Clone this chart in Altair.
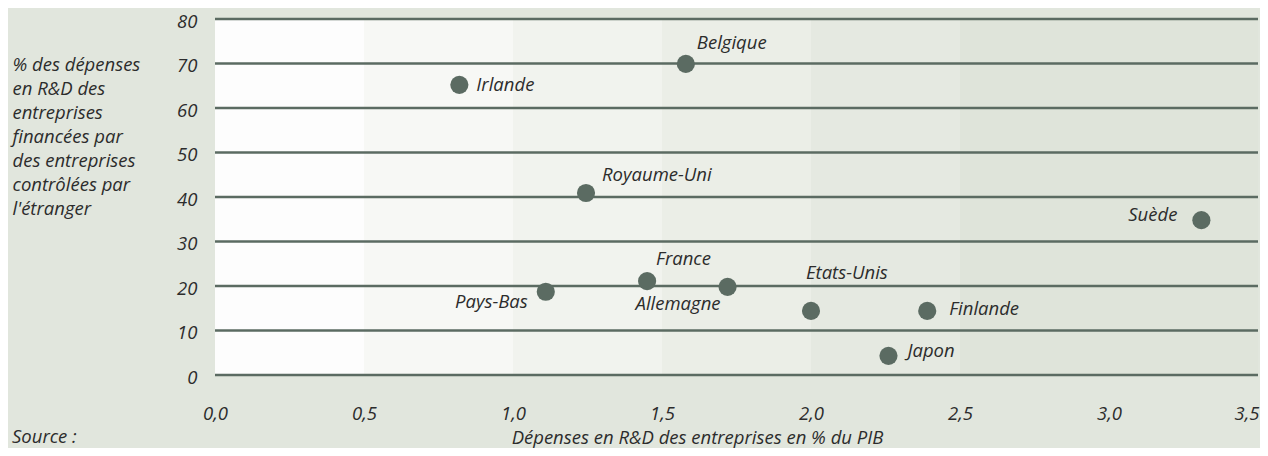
import altair as alt
import pandas as pd

# ---- data ----
countries = ["Irlande", "Belgique", "Royaume-Uni", "Pays-Bas", "France",
             "Allemagne", "Etats-Unis", "Finlande", "Japon", "Suède"]
rd_pib = [0.82, 1.58, 1.245, 1.11, 1.45, 1.72, 2.0, 2.39, 2.26, 3.31]
pct_foreign = [65.2, 69.9, 40.9, 18.7, 21.1, 19.8, 14.4, 14.4, 4.3, 34.8]

x_ticks = [0, 0.5, 1.0, 1.5, 2.0, 2.5, 3.0, 3.5]
y_ticks = [0, 10, 20, 30, 40, 50, 60, 70, 80]
band_start = [0, 0.5, 1.0, 1.5, 2.0, 2.5]
band_end = [0.5, 1.0, 1.5, 2.0, 2.5, 3.5]

y_title = ["% des dépenses", "en R&D des", "entreprises", "financées par",
           "des entreprises", "contrôlées par", "l'étranger"]
x_title = "Dépenses en R&D des entreprises en % du PIB"
source_text = "Source :"

# ---- styling ----
FONT = "Open Sans"
FS = 18.5
TXT = "#2c2c2c"
DARK = "#5b6b62"
BG = "#e1e6dd"
band_colors = ["#fdfdfd", "#f7f8f5", "#f1f3ee", "#ebeee7", "#e5e9e1", "#dfe4da"]

W, H = 1043, 356

df = pd.DataFrame({"pays": countries, "x": rd_pib, "y": pct_foreign})
bands = pd.DataFrame({"b": list(range(len(band_start))), "x0": band_start, "x1": band_end})
grid = pd.DataFrame({"v": y_ticks})

xs = alt.Scale(domain=[x_ticks[0], x_ticks[-1]], nice=False, zero=False)
ys = alt.Scale(domain=[y_ticks[0], y_ticks[-1]], nice=False, zero=False)

x_axis = alt.Axis(
    values=x_ticks,
    labelExpr="replace(format(datum.value, '.1f'), '.', ',')",
    labelFont=FONT, labelFontSize=FS, labelFontStyle="italic", labelColor=TXT,
    labelPadding=29,
    labelAlign={"condition": {"test": "datum.value >= 3.5", "value": "right"}, "value": "center"},
    labelOffset={"condition": {"test": "datum.value >= 3.5", "value": 1}, "value": 0},
    labelBound=False, labelOverlap=False,
    domain=False, ticks=False, grid=False,
    title=x_title, titleFont=FONT, titleFontSize=FS, titleFontStyle="italic",
    titleFontWeight="normal", titleColor=TXT, titleX=482, titleY=68,
    titleAlign="center", titleBaseline="alphabetic",
)
y_axis = alt.Axis(
    values=y_ticks, format="d",
    labelFont=FONT, labelFontSize=FS, labelFontStyle="italic", labelColor=TXT,
    labelPadding=18, labelOffset=2,
    domain=False, ticks=False, grid=False,
    title=y_title, titleFont=FONT, titleFontSize=FS, titleFontStyle="italic",
    titleFontWeight="normal", titleColor=TXT, titleAngle=0, titleAlign="left",
    titleBaseline="alphabetic", titleX=-203, titleY=51, titleLineHeight=24,
)

band_layer = alt.Chart(bands).mark_rect().encode(
    x=alt.X("x0:Q", scale=xs, axis=x_axis),
    x2="x1:Q",
    y=alt.Y(datum=y_ticks[0], scale=ys, axis=y_axis),
    y2=alt.Y2(datum=y_ticks[-1]),
    color=alt.Color("b:N", scale=alt.Scale(domain=list(range(len(band_start))), range=band_colors), legend=None),
)

grid_layer = alt.Chart(grid).mark_rule(color=DARK, strokeWidth=2.7).encode(
    x=alt.X(datum=x_ticks[0], scale=xs, axis=x_axis),
    x2=alt.X2(datum=x_ticks[-1]),
    y=alt.Y("v:Q", scale=ys, axis=y_axis),
)

points = alt.Chart(df).mark_circle(size=330, color=DARK, opacity=1).encode(
    x=alt.X("x:Q", scale=xs, axis=x_axis),
    y=alt.Y("y:Q", scale=ys, axis=y_axis),
)

label_style = {
    "Irlande": ("left", 17, 0),
    "Belgique": ("left", 11, -21),
    "Royaume-Uni": ("left", 16, -18),
    "Pays-Bas": ("right", -18, 10),
    "France": ("left", 9, -22),
    "Allemagne": ("right", -7, 17),
    "Etats-Unis": ("left", -5, -38),
    "Finlande": ("left", 22, -2),
    "Japon": ("left", 19, -5),
    "Suède": ("right", -24, -5),
}

labels = []
for c in countries:
    al, dx, dy = label_style[c]
    labels.append(
        alt.Chart(df).transform_filter(alt.datum.pays == c).mark_text(
            align=al, baseline="middle", dx=dx, dy=dy, font=FONT, fontSize=FS,
            fontStyle="italic", color=TXT,
        ).encode(
            x=alt.X("x:Q", scale=xs, axis=x_axis),
            y=alt.Y("y:Q", scale=ys, axis=y_axis),
            text="pays:N",
        )
    )

source = alt.Chart(pd.DataFrame({"t": [source_text]})).mark_text(
    align="left", baseline="alphabetic", font=FONT, fontSize=FS,
    fontStyle="italic", color=TXT,
).encode(x=alt.value(-203), y=alt.value(424), text="t:N")

chart = alt.layer(band_layer, grid_layer, points, *labels, source).properties(
    width=W, height=H,
    padding={"left": 207, "top": 11, "right": 2, "bottom": 73},
    autosize=alt.AutoSizeParams(type="none"),
    background=BG,
).configure_view(stroke=None)

chart.save("out.html", embed_options={"renderer": "svg", "actions": False})
